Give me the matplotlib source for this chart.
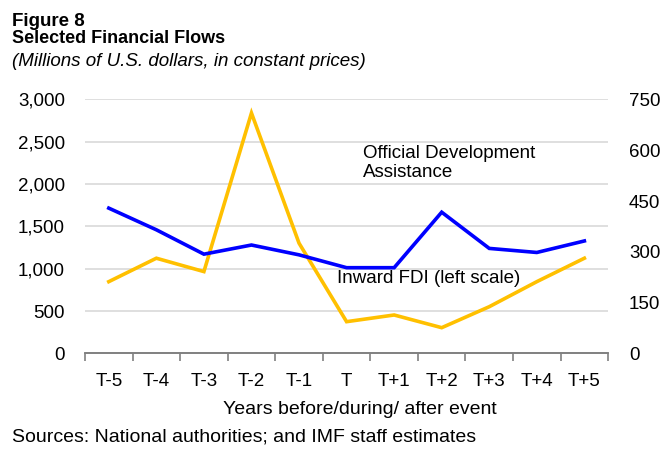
import matplotlib
matplotlib.use("Agg")
import matplotlib.pyplot as plt
import numpy as np

plt.rcParams['font.family'] = ['Liberation Sans', 'DejaVu Sans']

periods = ["T-5", "T-4", "T-3", "T-2", "T-1", "T", "T+1", "T+2", "T+3", "T+4", "T+5"]
fdi = [847, 1124, 966, 2840, 1302, 374, 453, 303, 551, 847, 1124]
oda = [429, 365, 293, 320, 291, 253, 253, 417, 310, 298, 332]

left_ticks = [0, 500, 1000, 1500, 2000, 2500, 3000]
right_ticks = [0, 150, 300, 450, 600, 750]

fig = plt.figure(figsize=(6.72, 4.49), dpi=100)
ax = fig.add_axes([0.1265, 0.2131, 0.905 - 0.1265, 0.7784 - 0.2131])
ax2 = ax.twinx()

x = np.arange(len(periods))
ax.plot(x, fdi, color="#FFC000", lw=2.6, solid_joinstyle="miter", zorder=3)
ax2.plot(x, oda, color="#0000FF", lw=2.6, solid_joinstyle="miter", zorder=3)

ax.set_xlim(-0.5, len(periods) - 0.5)
ax.set_ylim(0, 3000)
ax2.set_ylim(0, 750)
ax.set_yticks(left_ticks)
ax.set_yticklabels([f"{v:,}" for v in left_ticks])
ax2.set_yticks(right_ticks)
ax.grid(axis="y", color="#d9d9d9", lw=1.2)
ax.set_axisbelow(True)

# category labels between boundary tick marks
ax.set_xticks(np.arange(-0.5, len(periods), 1))
ax.set_xticklabels([])
ax.set_xticks(x, minor=True)
ax.set_xticklabels(periods, minor=True)
ax.tick_params(axis="x", which="major", length=6, color="#808080", width=1.2, direction="out")
ax.tick_params(axis="x", which="minor", length=0, labelsize=13.5, pad=14)
ax.tick_params(axis="y", length=0, labelsize=13.5, pad=14.5)
ax2.tick_params(axis="y", length=0, labelsize=13.5, pad=15)

for a in (ax, ax2):
    for s in ("top", "left", "right"):
        a.spines[s].set_visible(False)
    a.spines["bottom"].set_color("#808080")
    a.spines["bottom"].set_linewidth(1.2)

fig.text(0.536, 0.078, "Years before/during/ after event", fontsize=14, ha="center", va="baseline")

ax2.text(5.35, 563, "Official Development\nAssistance", fontsize=13.5, va="center", linespacing=1.15)
ax.text(4.8, 890, "Inward FDI (left scale)", fontsize=13.5, va="center")

fig.text(0.018, 0.943, "Figure 8", fontsize=13.5, fontweight="bold", va="baseline")
fig.text(0.018, 0.904, "Selected Financial Flows", fontsize=13, fontweight="bold", va="baseline")
fig.text(0.018, 0.853, "(Millions of U.S. dollars, in constant prices)", fontsize=13.5, style="italic", va="baseline")
fig.text(0.018, 0.016, "Sources: National authorities; and IMF staff estimates", fontsize=14, va="baseline")

fig.savefig("out.png", dpi=100)
